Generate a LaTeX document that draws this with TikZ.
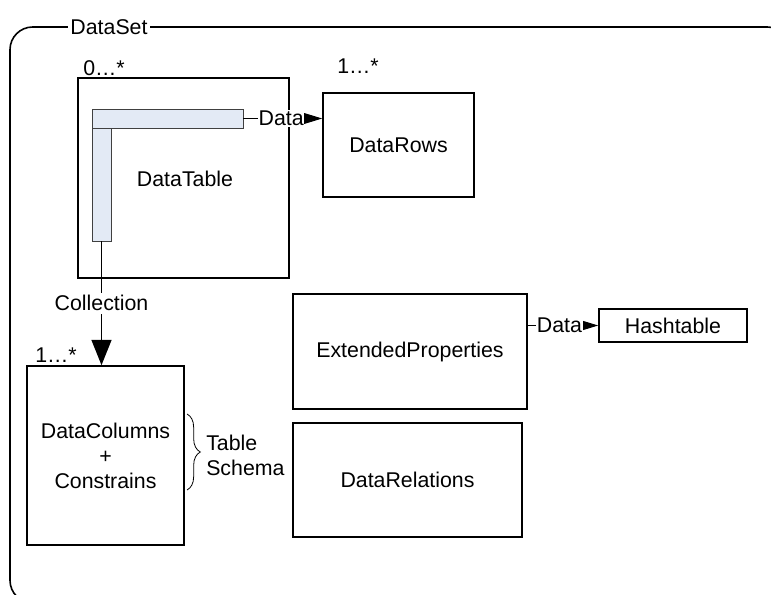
\documentclass[tikz,border=0pt]{standalone}
\usepackage{fontspec}
\setmainfont{Liberation Sans}
\usetikzlibrary{arrows.meta,decorations.pathreplacing}
\definecolor{barblue}{HTML}{E3EAF5}
\tikzset{box/.style={draw,line width=1.2pt,rectangle,inner sep=0pt,align=center},
bar/.style={draw=black!75,fill=barblue,line width=.6pt,rectangle,inner sep=0pt},
link/.style={line width=.8pt,-{Triangle[length=13.5pt,width=8pt]}},
biglink/.style={line width=1pt,-{Triangle[length=19pt,width=15pt]}},
lbl/.style={fill=white,inner sep=1.5pt}}

\begin{document}
\begin{tikzpicture}[x=.75pt,y=-.75pt,every node/.style={font=\fontsize{16}{18.75}\selectfont}]
\clip (0,0) rectangle (771,595);
% outer frame
\draw[line width=1.2pt,rounded corners=17pt] (10,27) rectangle (790,603);
\node[lbl] (dataSet) at (109,27) {DataSet};
% boxes
\node[box,minimum width=158.25pt,minimum height=150pt] (dataTable) at (183.5,178) {};
\node at (185,179) (tableName) {DataTable};
\node[bar,minimum width=14.25pt,minimum height=99pt] (vbar) at (101.5,175) {};
\node[bar,minimum width=113.25pt,minimum height=14.25pt] (hbar) at (167.5,118.5) {};
\node[box,minimum width=113.25pt,minimum height=78pt] (dataRows) at (398.5,145) {DataRows};
\node[box,minimum width=117.75pt,minimum height=134.25pt] (dataCols) at (105.5,455.5) {DataColumns\\+\\Constrains};
\node[box,minimum width=175.5pt,minimum height=86.25pt] (extProps) at (410,351.5) {ExtendedProperties};
\node[box,minimum width=171.75pt,minimum height=85.5pt] (dataRels) at (407.5,480) {DataRelations};
\node[box,minimum width=111pt,minimum height=24.75pt] (hashTable) at (673,325.5) {Hashtable};
% multiplicities
\node (mulTable) at (104,68) {0…*};
\node (mulRows) at (358,66) {1…*};
\node (mulCols) at (56,355) {1…*};
% connectors
\draw[link] (hbar.east) -- node[lbl,inner sep=.5pt,pos=.48]{Data} (hbar.east -| dataRows.west);
\draw[link] (hashTable.west -| extProps.east) -- node[lbl,inner sep=.5pt,pos=.45]{Data} (hashTable.west);
\draw[biglink] (vbar.south) -- node[lbl,inner sep=2pt]{Collection} (vbar.south |- dataCols.north);
% schema brace
\coordinate (schemaTop) at (187,414);
\coordinate (schemaBot) at (187,490);
\draw[line width=.6pt,decorate,decoration={brace,amplitude=10pt}] (schemaTop) -- (schemaBot);
\node[anchor=west,align=left,inner sep=0pt] (schema) at (206,455) {Table\\Schema};
\end{tikzpicture}
\end{document}
